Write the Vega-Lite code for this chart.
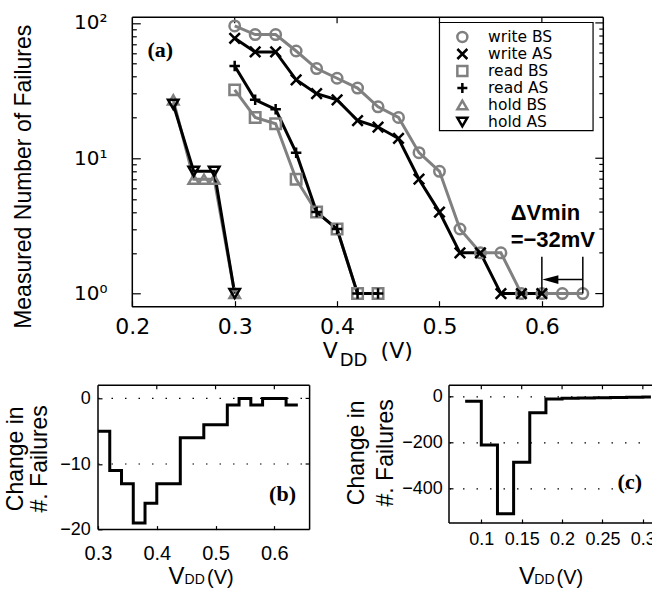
{
  "$schema": "https://vega.github.io/schema/vega-lite/v6.json",
  "padding": {"left": 0, "top": 2.3, "right": -6, "bottom": 0},
  "config": {
    "view": {"stroke": null, "fill": "white"},
    "axis": {"grid": false, "domain": false, "tickColor": "black", "labelColor": "black", "titleColor": "black", "labelFlush": false, "labelOverlap": false, "tickWidth": 1.2, "titleFontWeight": "normal"}
  },
  "datasets": {
    "main": [
      {"series": "write BS", "vdd": 0.30, "n": 95}, {"series": "write BS", "vdd": 0.32, "n": 82}, {"series": "write BS", "vdd": 0.34, "n": 82}, {"series": "write BS", "vdd": 0.36, "n": 62}, {"series": "write BS", "vdd": 0.38, "n": 46}, {"series": "write BS", "vdd": 0.40, "n": 39}, {"series": "write BS", "vdd": 0.42, "n": 33}, {"series": "write BS", "vdd": 0.44, "n": 24}, {"series": "write BS", "vdd": 0.46, "n": 20}, {"series": "write BS", "vdd": 0.48, "n": 11}, {"series": "write BS", "vdd": 0.50, "n": 8}, {"series": "write BS", "vdd": 0.52, "n": 3}, {"series": "write BS", "vdd": 0.54, "n": 2}, {"series": "write BS", "vdd": 0.56, "n": 2}, {"series": "write BS", "vdd": 0.58, "n": 1}, {"series": "write BS", "vdd": 0.60, "n": 1}, {"series": "write BS", "vdd": 0.62, "n": 1}, {"series": "write BS", "vdd": 0.64, "n": 1},
      {"series": "write AS", "vdd": 0.30, "n": 77}, {"series": "write AS", "vdd": 0.32, "n": 61}, {"series": "write AS", "vdd": 0.34, "n": 61}, {"series": "write AS", "vdd": 0.36, "n": 38}, {"series": "write AS", "vdd": 0.38, "n": 30}, {"series": "write AS", "vdd": 0.40, "n": 27}, {"series": "write AS", "vdd": 0.42, "n": 19}, {"series": "write AS", "vdd": 0.44, "n": 17}, {"series": "write AS", "vdd": 0.46, "n": 14}, {"series": "write AS", "vdd": 0.48, "n": 7}, {"series": "write AS", "vdd": 0.50, "n": 4}, {"series": "write AS", "vdd": 0.52, "n": 2}, {"series": "write AS", "vdd": 0.54, "n": 2}, {"series": "write AS", "vdd": 0.56, "n": 1}, {"series": "write AS", "vdd": 0.58, "n": 1}, {"series": "write AS", "vdd": 0.60, "n": 1},
      {"series": "read BS", "vdd": 0.30, "n": 32}, {"series": "read BS", "vdd": 0.32, "n": 20}, {"series": "read BS", "vdd": 0.34, "n": 18}, {"series": "read BS", "vdd": 0.36, "n": 7}, {"series": "read BS", "vdd": 0.38, "n": 4}, {"series": "read BS", "vdd": 0.40, "n": 3}, {"series": "read BS", "vdd": 0.42, "n": 1}, {"series": "read BS", "vdd": 0.44, "n": 1},
      {"series": "read AS", "vdd": 0.30, "n": 48}, {"series": "read AS", "vdd": 0.32, "n": 27}, {"series": "read AS", "vdd": 0.34, "n": 23}, {"series": "read AS", "vdd": 0.36, "n": 11}, {"series": "read AS", "vdd": 0.38, "n": 4}, {"series": "read AS", "vdd": 0.40, "n": 3}, {"series": "read AS", "vdd": 0.42, "n": 1}, {"series": "read AS", "vdd": 0.44, "n": 1},
      {"series": "hold BS", "vdd": 0.24, "n": 27}, {"series": "hold BS", "vdd": 0.26, "n": 7}, {"series": "hold BS", "vdd": 0.27, "n": 7}, {"series": "hold BS", "vdd": 0.28, "n": 7}, {"series": "hold BS", "vdd": 0.30, "n": 1},
      {"series": "hold AS", "vdd": 0.24, "n": 25}, {"series": "hold AS", "vdd": 0.26, "n": 8}, {"series": "hold AS", "vdd": 0.28, "n": 8}, {"series": "hold AS", "vdd": 0.30, "n": 1}
    ],
    "b": [
      {"vdd": 0.30, "d": -5}, {"vdd": 0.32, "d": -11}, {"vdd": 0.34, "d": -13}, {"vdd": 0.36, "d": -19}, {"vdd": 0.38, "d": -16}, {"vdd": 0.40, "d": -13}, {"vdd": 0.42, "d": -13}, {"vdd": 0.44, "d": -6}, {"vdd": 0.46, "d": -6}, {"vdd": 0.48, "d": -4}, {"vdd": 0.50, "d": -4}, {"vdd": 0.52, "d": -1}, {"vdd": 0.54, "d": 0}, {"vdd": 0.56, "d": -1}, {"vdd": 0.58, "d": 0}, {"vdd": 0.60, "d": 0}, {"vdd": 0.62, "d": -1}, {"vdd": 0.64, "d": -1}
    ],
    "c": [
      {"vdd": 0.08, "d": -20}, {"vdd": 0.10, "d": -210}, {"vdd": 0.12, "d": -510}, {"vdd": 0.14, "d": -285}, {"vdd": 0.16, "d": -70}, {"vdd": 0.18, "d": -10}, {"vdd": 0.20, "d": -6}, {"vdd": 0.22, "d": -5}, {"vdd": 0.24, "d": -4}, {"vdd": 0.26, "d": -3}, {"vdd": 0.28, "d": -2}, {"vdd": 0.30, "d": -1}, {"vdd": 0.31, "d": -1}
    ]
  },
  "spacing": 0,
  "resolve": {"scale": {"color": "independent", "shape": "independent"}, "legend": {"color": "independent", "shape": "independent"}},
  "vconcat": [
    {
      "width": 520.3,
      "height": 304.4,
      "resolve": {"axis": {"x": "independent", "y": "independent"}},
      "layer": [
        {
          "data": {"values": [{"xa": 0.2, "xb": 0.66, "ya": 0.8, "yb": 0.8}, {"xa": 0.2, "xb": 0.2, "ya": 0.8, "yb": 110}, {"xa": 0.2, "xb": 0.66, "ya": 110, "yb": 110}, {"xa": 0.66, "xb": 0.66, "ya": 0.8, "yb": 110}]},
          "mark": {"type": "rule", "color": "black", "strokeWidth": 1.5},
          "encoding": {
            "x": {"field": "xa", "type": "quantitative", "scale": {"domain": [0.1665, 0.67465], "nice": false, "zero": false},
              "axis": {"orient": "bottom", "values": [0.2, 0.3, 0.4, 0.5, 0.6], "format": ".1f", "labelFont": "DejaVu Sans", "labelFontSize": 22, "tickSize": -6, "labelPadding": 16, "title": null, "minExtent": 63}},
            "x2": {"field": "xb"},
            "y": {"field": "ya", "type": "quantitative", "scale": {"type": "log", "domain": [0.8, 141.98], "nice": false, "zero": false},
              "axis": {"orient": "left", "offset": -34.3, "values": [1, 10, 100], "labelExpr": "datum.value == 1 ? '10\u2070' : datum.value == 10 ? '10\u00b9' : '10\u00b2'", "labelFont": "DejaVu Sans", "labelFontSize": 20, "tickSize": -8, "labelPadding": 33.3, "title": "Measured Number of Failures", "titleFont": "Liberation Sans", "titleFontSize": 23, "titleX": -102, "titleY": 174, "titleBaseline": "alphabetic", "minExtent": 0}},
            "y2": {"field": "yb"}
          }
        },
        {
          "data": {"values": [{"v": 0.3}, {"v": 0.4}, {"v": 0.5}, {"v": 0.6}]},
          "mark": {"type": "rule", "color": "black", "strokeWidth": 1.2},
          "encoding": {
            "x": {"field": "v", "type": "quantitative", "scale": {"domain": [0.1665, 0.67465], "nice": false, "zero": false}, "axis": null},
            "y": {"datum": 110, "type": "quantitative", "scale": {"type": "log", "domain": [0.8, 141.98], "nice": false, "zero": false}, "axis": null},
            "y2": {"datum": 99.3}
          }
        },
        {
          "data": {"values": [{"n": 1}, {"n": 10}, {"n": 100}]},
          "mark": {"type": "rule", "color": "black", "strokeWidth": 1.2},
          "encoding": {
            "x": {"datum": 0.66, "type": "quantitative", "scale": {"domain": [0.1665, 0.67465], "nice": false, "zero": false}, "axis": null},
            "x2": {"datum": 0.6522},
            "y": {"field": "n", "type": "quantitative", "scale": {"type": "log", "domain": [0.8, 141.98], "nice": false, "zero": false}, "axis": null}
          }
        },
        {
          "data": {"values": [{"n": 2}, {"n": 3}, {"n": 4}, {"n": 5}, {"n": 6}, {"n": 7}, {"n": 8}, {"n": 9}, {"n": 20}, {"n": 30}, {"n": 40}, {"n": 50}, {"n": 60}, {"n": 70}, {"n": 80}, {"n": 90}]},
          "mark": {"type": "rule", "color": "black", "strokeWidth": 1.2},
          "encoding": {
            "x": {"datum": 0.66, "type": "quantitative", "scale": {"domain": [0.1665, 0.67465], "nice": false, "zero": false}, "axis": null},
            "x2": {"datum": 0.6561},
            "y": {"field": "n", "type": "quantitative", "scale": {"type": "log", "domain": [0.8, 141.98], "nice": false, "zero": false},
              "axis": {"orient": "left", "offset": -34.3, "values": [2, 3, 4, 5, 6, 7, 8, 9, 20, 30, 40, 50, 60, 70, 80, 90], "labels": false, "tickSize": -4, "title": null, "minExtent": 0}}
          }
        },
        {
          "data": {"name": "main"},
          "transform": [{"filter": "indexof(datum.series, 'BS') >= 0"}],
          "mark": {"type": "line", "strokeWidth": 3, "color": "#808080"},
          "encoding": {
            "x": {"field": "vdd", "type": "quantitative", "scale": {"domain": [0.1665, 0.67465], "nice": false, "zero": false}, "axis": null},
            "y": {"field": "n", "type": "quantitative", "scale": {"type": "log", "domain": [0.8, 141.98], "nice": false, "zero": false}, "axis": null},
            "detail": {"field": "series"}
          }
        },
        {
          "data": {"name": "main"},
          "transform": [{"filter": "indexof(datum.series, 'AS') >= 0"}],
          "mark": {"type": "line", "strokeWidth": 3, "color": "#000000"},
          "encoding": {
            "x": {"field": "vdd", "type": "quantitative", "scale": {"domain": [0.1665, 0.67465], "nice": false, "zero": false}, "axis": null},
            "y": {"field": "n", "type": "quantitative", "scale": {"type": "log", "domain": [0.8, 141.98], "nice": false, "zero": false}, "axis": null},
            "detail": {"field": "series"}
          }
        },
        {
          "data": {"values": [{"x0": 0.50, "x1": 0.65, "y0": 16, "y1": 100.7}]},
          "mark": {"type": "rect", "fill": "white", "stroke": "black", "strokeWidth": 1.2},
          "encoding": {
            "x": {"field": "x0", "type": "quantitative", "scale": {"domain": [0.1665, 0.67465], "nice": false, "zero": false}, "axis": null},
            "x2": {"field": "x1"},
            "y": {"field": "y0", "type": "quantitative", "scale": {"type": "log", "domain": [0.8, 141.98], "nice": false, "zero": false}, "axis": null},
            "y2": {"field": "y1"}
          }
        },
        {
          "data": {"name": "main"},
          "mark": {"type": "point", "filled": false, "strokeWidth": 2.5, "size": 110, "opacity": 1},
          "encoding": {
            "x": {"field": "vdd", "type": "quantitative", "scale": {"domain": [0.1665, 0.67465], "nice": false, "zero": false}, "axis": null},
            "y": {"field": "n", "type": "quantitative", "scale": {"type": "log", "domain": [0.8, 141.98], "nice": false, "zero": false}, "axis": null},
            "color": {"field": "series", "type": "nominal", "scale": {"domain": ["write BS", "write AS", "read BS", "read AS", "hold BS", "hold AS"], "range": ["#808080", "#000000", "#808080", "#000000", "#808080", "#000000"]},
              "legend": {"title": null, "orient": "none", "legendX": 351.6, "legendY": 21.6, "padding": 5, "labelFont": "DejaVu Sans", "labelFontSize": 15.5, "symbolStrokeWidth": 2.5, "symbolSize": 100, "rowPadding": 0, "clipHeight": 16.2, "labelOffset": 18, "labelLimit": 300,
                "encode": {"labels": {"fill": {"condition": {"test": "indexof(datum.label, 'BS') >= 0", "value": "#808080"}, "value": "#000000"}}}}},
            "shape": {"field": "series", "type": "nominal", "scale": {"domain": ["write BS", "write AS", "read BS", "read AS", "hold BS", "hold AS"], "range": ["circle", "M-1,-1L1,1M-1,1L1,-1", "square", "M-1,0L1,0M0,-1L0,1", "triangle-up", "triangle-down"]},
              "legend": {"title": null, "orient": "none", "legendX": 351.6, "legendY": 21.6, "padding": 5, "labelFont": "DejaVu Sans", "labelFontSize": 15.5, "symbolStrokeWidth": 2.5, "symbolSize": 100, "rowPadding": 0, "clipHeight": 16.2, "labelOffset": 18, "labelLimit": 300,
                "encode": {"labels": {"fill": {"condition": {"test": "indexof(datum.label, 'BS') >= 0", "value": "#808080"}, "value": "#000000"}}}}}
          }
        },
        {
          "data": {"values": [{"v": 0.60, "lo": 1, "hi": 1.87}, {"v": 0.64, "lo": 1, "hi": 1.87}]},
          "mark": {"type": "rule", "strokeWidth": 1.5, "color": "black"},
          "encoding": {
            "x": {"field": "v", "type": "quantitative", "scale": {"domain": [0.1665, 0.67465], "nice": false, "zero": false}, "axis": null},
            "y": {"field": "lo", "type": "quantitative", "scale": {"type": "log", "domain": [0.8, 141.98], "nice": false, "zero": false}, "axis": null},
            "y2": {"field": "hi"}
          }
        },
        {
          "data": {"values": [{"a": 0.607, "b": 0.64, "y": 1.27}]},
          "mark": {"type": "rule", "strokeWidth": 1.5, "color": "black"},
          "encoding": {
            "x": {"field": "a", "type": "quantitative", "scale": {"domain": [0.1665, 0.67465], "nice": false, "zero": false}, "axis": null},
            "x2": {"field": "b"},
            "y": {"field": "y", "type": "quantitative", "scale": {"type": "log", "domain": [0.8, 141.98], "nice": false, "zero": false}, "axis": null}
          }
        },
        {
          "data": {"values": [{"x": 0.6083, "y": 1.27}]},
          "mark": {"type": "point", "shape": "M-1,0L1,-0.55L1,0.55Z", "filled": true, "color": "black", "size": 256, "opacity": 1},
          "encoding": {
            "x": {"field": "x", "type": "quantitative", "scale": {"domain": [0.1665, 0.67465], "nice": false, "zero": false}, "axis": null},
            "y": {"field": "y", "type": "quantitative", "scale": {"type": "log", "domain": [0.8, 141.98], "nice": false, "zero": false}, "axis": null}
          }
        },
        {
          "data": {"values": [{"x": 0.2273, "y": 63, "t": "(a)"}]},
          "mark": {"type": "text", "font": "Liberation Serif", "fontWeight": "bold", "fontSize": 22, "align": "center", "baseline": "middle"},
          "encoding": {
            "x": {"field": "x", "type": "quantitative", "scale": {"domain": [0.1665, 0.67465], "nice": false, "zero": false}, "axis": null},
            "y": {"field": "y", "type": "quantitative", "scale": {"type": "log", "domain": [0.8, 141.98], "nice": false, "zero": false}, "axis": null},
            "text": {"field": "t"}
          }
        },
        {
          "data": {"values": [{"x": 0.5695, "y": 3.91, "t": "\u0394Vmin"}, {"x": 0.5695, "y": 2.48, "t": "=\u221232mV"}]},
          "mark": {"type": "text", "font": "Liberation Sans", "fontWeight": "bold", "fontSize": 22, "align": "left", "baseline": "middle"},
          "encoding": {
            "x": {"field": "x", "type": "quantitative", "scale": {"domain": [0.1665, 0.67465], "nice": false, "zero": false}, "axis": null},
            "y": {"field": "y", "type": "quantitative", "scale": {"type": "log", "domain": [0.8, 141.98], "nice": false, "zero": false}, "axis": null},
            "text": {"field": "t"}
          }
        },
        {
          "data": {"values": [{"x": 0.386, "y": 0.8, "t": "V"}]},
          "mark": {"type": "text", "font": "DejaVu Sans", "fontSize": 22, "align": "left", "baseline": "alphabetic", "dy": 51},
          "encoding": {
            "x": {"field": "x", "type": "quantitative", "scale": {"domain": [0.1665, 0.67465], "nice": false, "zero": false}, "axis": null},
            "y": {"field": "y", "type": "quantitative", "scale": {"type": "log", "domain": [0.8, 141.98], "nice": false, "zero": false}, "axis": null},
            "text": {"field": "t"}
          }
        },
        {
          "data": {"values": [{"x": 0.4025, "y": 0.8, "t": "DD"}]},
          "mark": {"type": "text", "font": "DejaVu Sans", "fontSize": 18, "align": "left", "baseline": "alphabetic", "dy": 59},
          "encoding": {
            "x": {"field": "x", "type": "quantitative", "scale": {"domain": [0.1665, 0.67465], "nice": false, "zero": false}, "axis": null},
            "y": {"field": "y", "type": "quantitative", "scale": {"type": "log", "domain": [0.8, 141.98], "nice": false, "zero": false}, "axis": null},
            "text": {"field": "t"}
          }
        },
        {
          "data": {"values": [{"x": 0.4425, "y": 0.8, "t": "(V)"}]},
          "mark": {"type": "text", "font": "DejaVu Sans", "fontSize": 22, "align": "left", "baseline": "alphabetic", "dy": 51},
          "encoding": {
            "x": {"field": "x", "type": "quantitative", "scale": {"domain": [0.1665, 0.67465], "nice": false, "zero": false}, "axis": null},
            "y": {"field": "y", "type": "quantitative", "scale": {"type": "log", "domain": [0.8, 141.98], "nice": false, "zero": false}, "axis": null},
            "text": {"field": "t"}
          }
        }
      ]
    },
    {
      "spacing": 10,
      "hconcat": [
        {
          "width": 226.6,
          "height": 159.3,
          "resolve": {"axis": {"x": "independent", "y": "independent"}},
          "layer": [
            {
              "data": {"values": [{"xa": 0.3, "xb": 0.66, "ya": -20, "yb": -20}, {"xa": 0.3, "xb": 0.3, "ya": -20, "yb": 2}, {"xa": 0.3, "xb": 0.66, "ya": 2, "yb": 2}, {"xa": 0.66, "xb": 0.66, "ya": -20, "yb": 2}]},
              "mark": {"type": "rule", "color": "black", "strokeWidth": 1.5},
              "encoding": {
                "x": {"field": "xa", "type": "quantitative", "scale": {"domain": [0.3, 0.68552], "nice": false, "zero": false},
                  "axis": {"orient": "bottom", "values": [0.3, 0.4, 0.5, 0.6], "format": ".1f", "labelFont": "Liberation Sans", "labelFontSize": 20, "tickSize": -4, "labelPadding": 18, "title": null, "minExtent": 0}},
                "x2": {"field": "xb"},
                "y": {"field": "ya", "type": "quantitative", "scale": {"domain": [-20, 4.287], "nice": false, "zero": false},
                  "axis": {"orient": "left", "values": [-20, -10, 0], "labelFont": "Liberation Sans", "labelFontSize": 18, "tickSize": -4, "labelPadding": 11.7, "title": "Change in", "titleFont": "Liberation Sans", "titleFontSize": 23, "titleX": -76, "titleY": 88, "titleBaseline": "alphabetic", "minExtent": 97.7}},
                "y2": {"field": "yb"}
              }
            },
            {
              "data": {"values": [{"d": -10}, {"d": 0}]},
              "mark": {"type": "rule", "color": "black", "strokeWidth": 1.2, "strokeDash": [1.5, 12]},
              "encoding": {
                "x": {"datum": 0.3, "type": "quantitative", "scale": {"domain": [0.3, 0.68552], "nice": false, "zero": false}, "axis": null},
                "x2": {"datum": 0.66},
                "y": {"field": "d", "type": "quantitative", "scale": {"domain": [-20, 4.287], "nice": false, "zero": false}, "axis": null}
              }
            },
            {
              "data": {"values": [{"v": 0.4}, {"v": 0.5}, {"v": 0.6}]},
              "mark": {"type": "rule", "color": "black", "strokeWidth": 1.2},
              "encoding": {
                "x": {"field": "v", "type": "quantitative", "scale": {"domain": [0.3, 0.68552], "nice": false, "zero": false}, "axis": null},
                "y": {"datum": 2, "type": "quantitative", "scale": {"domain": [-20, 4.287], "nice": false, "zero": false}, "axis": null},
                "y2": {"datum": 1.39}
              }
            },
            {
              "data": {"values": [{"d": -10}, {"d": 0}]},
              "mark": {"type": "rule", "color": "black", "strokeWidth": 1.2},
              "encoding": {
                "x": {"datum": 0.66, "type": "quantitative", "scale": {"domain": [0.3, 0.68552], "nice": false, "zero": false}, "axis": null},
                "x2": {"datum": 0.6532},
                "y": {"field": "d", "type": "quantitative", "scale": {"domain": [-20, 4.287], "nice": false, "zero": false}, "axis": null}
              }
            },
            {
              "data": {"name": "b"},
              "mark": {"type": "line", "interpolate": "step-after", "strokeWidth": 3, "color": "black"},
              "encoding": {
                "x": {"field": "vdd", "type": "quantitative", "scale": {"domain": [0.3, 0.68552], "nice": false, "zero": false}, "axis": null},
                "y": {"field": "d", "type": "quantitative", "scale": {"domain": [-20, 4.287], "nice": false, "zero": false}, "axis": null}
              }
            },
            {
              "data": {"values": [{"x": 0.614, "y": -14.6, "t": "(b)"}]},
              "mark": {"type": "text", "font": "Liberation Serif", "fontWeight": "bold", "fontSize": 22, "align": "center", "baseline": "middle"},
              "encoding": {
                "x": {"field": "x", "type": "quantitative", "scale": {"domain": [0.3, 0.68552], "nice": false, "zero": false}, "axis": null},
                "y": {"field": "y", "type": "quantitative", "scale": {"domain": [-20, 4.287], "nice": false, "zero": false},
                  "axis": {"orient": "left", "values": [0], "labels": false, "ticks": false, "title": "#. Failures", "titleFont": "Liberation Sans", "titleFontSize": 23, "titleX": -51.7, "titleY": 88, "titleBaseline": "alphabetic", "minExtent": 0}},
                "text": {"field": "t"}
              }
            },
            {
              "data": {"values": [{"x": 0.42, "y": -20, "t": "V"}]},
              "mark": {"type": "text", "font": "Liberation Sans", "fontSize": 24, "align": "left", "baseline": "alphabetic", "dy": 54.5},
              "encoding": {
                "x": {"field": "x", "type": "quantitative", "scale": {"domain": [0.3, 0.68552], "nice": false, "zero": false}, "axis": null},
                "y": {"field": "y", "type": "quantitative", "scale": {"domain": [-20, 4.287], "nice": false, "zero": false}, "axis": null},
                "text": {"field": "t"}
              }
            },
            {
              "data": {"values": [{"x": 0.4473, "y": -20, "t": "DD"}]},
              "mark": {"type": "text", "font": "Liberation Sans", "fontSize": 14, "align": "left", "baseline": "alphabetic", "dy": 54.5},
              "encoding": {
                "x": {"field": "x", "type": "quantitative", "scale": {"domain": [0.3, 0.68552], "nice": false, "zero": false}, "axis": null},
                "y": {"field": "y", "type": "quantitative", "scale": {"domain": [-20, 4.287], "nice": false, "zero": false}, "axis": null},
                "text": {"field": "t"}
              }
            },
            {
              "data": {"values": [{"x": 0.4854, "y": -20, "t": "(V)"}]},
              "mark": {"type": "text", "font": "Liberation Sans", "fontSize": 20, "align": "left", "baseline": "alphabetic", "dy": 54.5},
              "encoding": {
                "x": {"field": "x", "type": "quantitative", "scale": {"domain": [0.3, 0.68552], "nice": false, "zero": false}, "axis": null},
                "y": {"field": "y", "type": "quantitative", "scale": {"domain": [-20, 4.287], "nice": false, "zero": false}, "axis": null},
                "text": {"field": "t"}
              }
            }
          ]
        },
        {
          "width": 210,
          "height": 152.7,
          "resolve": {"axis": {"x": "independent", "y": "independent"}},
          "layer": [
            {
              "data": {"values": [{"xa": 0.06, "xb": 0.32, "ya": -550, "yb": -550}, {"xa": 0.06, "xb": 0.06, "ya": -550, "yb": 50}, {"xa": 0.06, "xb": 0.32, "ya": 50, "yb": 50}]},
              "mark": {"type": "rule", "color": "black", "strokeWidth": 1.5},
              "encoding": {
                "x": {"field": "xa", "type": "quantitative", "scale": {"domain": [0.06, 0.32], "nice": false, "zero": false},
                  "axis": {"orient": "bottom", "values": [0.1, 0.15, 0.2, 0.25, 0.3], "format": ".2~f", "labelFont": "Liberation Sans", "labelFontSize": 18, "tickSize": -4, "labelPadding": 12, "title": null, "minExtent": 0}},
                "x2": {"field": "xb"},
                "y": {"field": "ya", "type": "quantitative", "scale": {"domain": [-550, 115.36], "nice": false, "zero": false},
                  "axis": {"orient": "left", "values": [-400, -200, 0], "labelFont": "Liberation Sans", "labelFontSize": 18, "tickSize": -4, "labelPadding": 10.7, "grid": true, "gridDash": [1.5, 12], "gridColor": "black", "gridWidth": 1.2, "title": "Change in", "titleFont": "Liberation Sans", "titleFontSize": 23, "titleX": -85, "titleY": 82, "titleBaseline": "alphabetic", "minExtent": 113.4}},
                "y2": {"field": "yb"}
              }
            },
            {
              "data": {"values": [{"v": 0.1}, {"v": 0.15}, {"v": 0.2}, {"v": 0.25}, {"v": 0.3}]},
              "mark": {"type": "rule", "color": "black", "strokeWidth": 1.2},
              "encoding": {
                "x": {"field": "v", "type": "quantitative", "scale": {"domain": [0.06, 0.32], "nice": false, "zero": false}, "axis": null},
                "y": {"datum": 50, "type": "quantitative", "scale": {"domain": [-550, 115.36], "nice": false, "zero": false}, "axis": null},
                "y2": {"datum": 32.6}
              }
            },
            {
              "data": {"name": "c"},
              "mark": {"type": "line", "interpolate": "step-after", "strokeWidth": 3, "color": "black"},
              "encoding": {
                "x": {"field": "vdd", "type": "quantitative", "scale": {"domain": [0.06, 0.32], "nice": false, "zero": false}, "axis": null},
                "y": {"field": "d", "type": "quantitative", "scale": {"domain": [-550, 115.36], "nice": false, "zero": false}, "axis": null}
              }
            },
            {
              "data": {"values": [{"x": 0.2838, "y": -373, "t": "(c)"}]},
              "mark": {"type": "text", "font": "Liberation Serif", "fontWeight": "bold", "fontSize": 22, "align": "center", "baseline": "middle"},
              "encoding": {
                "x": {"field": "x", "type": "quantitative", "scale": {"domain": [0.06, 0.32], "nice": false, "zero": false}, "axis": null},
                "y": {"field": "y", "type": "quantitative", "scale": {"domain": [-550, 115.36], "nice": false, "zero": false},
                  "axis": {"orient": "left", "values": [0], "labels": false, "ticks": false, "title": "#. Failures", "titleFont": "Liberation Sans", "titleFontSize": 23, "titleX": -56.7, "titleY": 82, "titleBaseline": "alphabetic", "minExtent": 0}},
                "text": {"field": "t"}
              }
            },
            {
              "data": {"values": [{"x": 0.1466, "y": -550, "t": "V"}]},
              "mark": {"type": "text", "font": "Liberation Sans", "fontSize": 24, "align": "left", "baseline": "alphabetic", "dy": 61.1},
              "encoding": {
                "x": {"field": "x", "type": "quantitative", "scale": {"domain": [0.06, 0.32], "nice": false, "zero": false}, "axis": null},
                "y": {"field": "y", "type": "quantitative", "scale": {"domain": [-550, 115.36], "nice": false, "zero": false}, "axis": null},
                "text": {"field": "t"}
              }
            },
            {
              "data": {"values": [{"x": 0.1657, "y": -550, "t": "DD"}]},
              "mark": {"type": "text", "font": "Liberation Sans", "fontSize": 14, "align": "left", "baseline": "alphabetic", "dy": 61.1},
              "encoding": {
                "x": {"field": "x", "type": "quantitative", "scale": {"domain": [0.06, 0.32], "nice": false, "zero": false}, "axis": null},
                "y": {"field": "y", "type": "quantitative", "scale": {"domain": [-550, 115.36], "nice": false, "zero": false}, "axis": null},
                "text": {"field": "t"}
              }
            },
            {
              "data": {"values": [{"x": 0.1931, "y": -550, "t": "(V)"}]},
              "mark": {"type": "text", "font": "Liberation Sans", "fontSize": 20, "align": "left", "baseline": "alphabetic", "dy": 61.1},
              "encoding": {
                "x": {"field": "x", "type": "quantitative", "scale": {"domain": [0.06, 0.32], "nice": false, "zero": false}, "axis": null},
                "y": {"field": "y", "type": "quantitative", "scale": {"domain": [-550, 115.36], "nice": false, "zero": false}, "axis": null},
                "text": {"field": "t"}
              }
            }
          ]
        }
      ]
    }
  ]
}
